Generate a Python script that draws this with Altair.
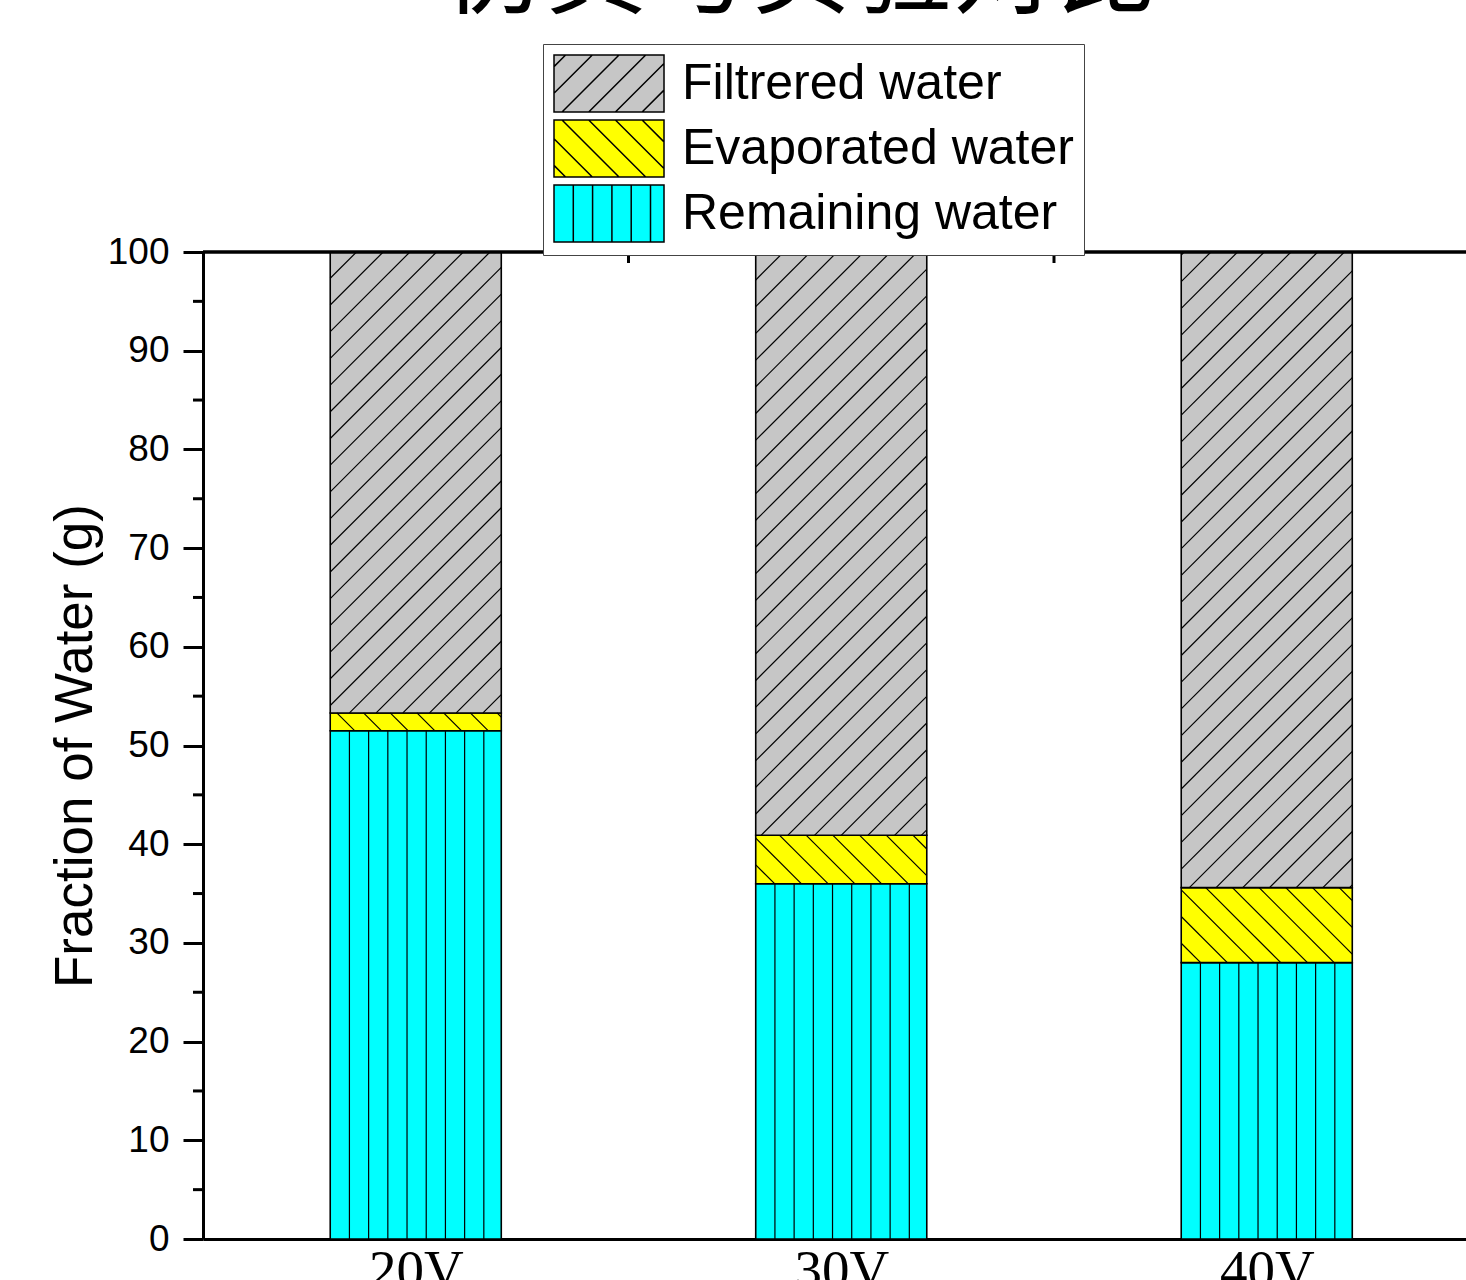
import math

import altair as alt
import pandas as pd

# ---- data ----
categories = ["20V", "30V", "40V"]
remaining = [51.5, 36.0, 28.0]
evaporated = [1.8, 4.9, 7.6]
filtered = [46.7, 59.1, 64.4]

segments = ["Filtrered water", "Evaporated water", "Remaining water"]
seg_colors = ["#c6c6c6", "#ffff00", "#00ffff"]
seg_hatch = {"Filtrered water": "/", "Evaporated water": "\\", "Remaining water": "|"}

title_text = "仿真与实验对比"
y_title = "Fraction of Water (g)"

# ---- layout (pixels) ----
PAD_L, PAD_T, PAD_B = 203, 252, 41
W = 1466 - PAD_L
H = 987
SLOT = 425.5            # pixels between neighbouring categories
X_MIN = 0.5
X_MAX = X_MIN + W / SLOT
BAR_HALF = 0.201        # half bar width in category units
KY = H / 100.0
DSTEP = 26.7            # diagonal hatch spacing (px, horizontal)
VSTEP = 19.2            # vertical hatch spacing (px)
SW_W, SW_H = 110.0, 57.0  # legend swatch size (px)


def to_px(x, y):
    return (x - X_MIN) * SLOT, H - y * KY


def from_px(px, py):
    return px / SLOT + X_MIN, (H - py) / KY


def hatch_lines(x0, x1, yt, yb, kind, step_v=VSTEP, phase=0.0):
    """Hatch segments clipped to a pixel rectangle (y grows downwards)."""
    out = []
    if kind == "|":
        px = x0 + step_v
        while px < x1 - 2:
            out.append((px, yt, px, yb))
            px += step_v
    elif kind == "/":
        s = phase + math.floor((x0 + yt - phase) / DSTEP) * DSTEP
        while s <= x1 + yb:
            pa, pb = max(x0, s - yb), min(x1, s - yt)
            if pb - pa > 0.5:
                out.append((pa, s - pa, pb, s - pb))
            s += DSTEP
    else:
        s = phase + math.floor((x0 - yb - phase) / DSTEP) * DSTEP
        while s <= x1 - yt:
            pa, pb = max(x0, s + yt), min(x1, s + yb)
            if pb - pa > 0.5:
                out.append((pa, pa - s, pb, pb - s))
            s += DSTEP
    return out


# stacked bar pieces
rows = []
for i, cat in enumerate(categories):
    pos = i + 1
    y0 = 0.0
    for seg, val in (("Remaining water", remaining[i]),
                     ("Evaporated water", evaporated[i]),
                     ("Filtrered water", filtered[i])):
        rows.append(dict(cat=cat, pos=pos, segment=seg, value=val,
                         y0=y0, y1=y0 + val, mid=y0 + val / 2,
                         x0=pos - BAR_HALF, x1=pos + BAR_HALF))
        y0 += val
bars_df = pd.DataFrame(rows)

# hatch strokes inside every bar piece
hrows = []
for r in rows:
    px0, py_bot = to_px(r["x0"], r["y0"])
    px1, py_top = to_px(r["x1"], r["y1"])
    for a, b, c, d in hatch_lines(px0, px1, py_top, py_bot, seg_hatch[r["segment"]], phase=20):
        hx0, hy0 = from_px(a, b)
        hx1, hy1 = from_px(c, d)
        hrows.append(dict(hx0=hx0, hy0=hy0, hx1=hx1, hy1=hy1))
hatch_df = pd.DataFrame(hrows)


# legend swatches: rectangle plus its hatch, as symbol paths.
# Symbol units are SW_H/2 pixels; the swatch starts at the left edge of a
# square symbol of side SW_H and runs SW_W pixels to the right.
def swatch_path(kind):
    unit = SW_H / 2
    x0, x1 = -unit, -unit + SW_W
    yt, yb = -unit, unit
    parts = [f"M{x0 / unit:.3f},{yt / unit:.3f}H{x1 / unit:.3f}V{yb / unit:.3f}H{x0 / unit:.3f}Z"]
    for a, b, c, d in hatch_lines(x0, x1, yt, yb, kind, step_v=19.3, phase=8):
        parts.append(f"M{a / unit:.3f},{b / unit:.3f}L{c / unit:.3f},{d / unit:.3f}")
    return "".join(parts)


swatches = [swatch_path(seg_hatch[s]) for s in segments]
SYM_SIZE = SW_H * SW_H

minor_df = pd.DataFrame({"v": [v + 5 for v in range(0, 100, 10)]})
top_ticks_df = pd.DataFrame({"t": [p + 0.5 for p in range(1, len(categories))]})
top_line_df = pd.DataFrame({"v": [100]})
title_df = pd.DataFrame({"t": [title_text]})

# ---- scales / axes ----
xs = alt.Scale(domain=[X_MIN, X_MAX], nice=False, zero=False)
ys = alt.Scale(domain=[0, 100], nice=False)
fill_scale = alt.Scale(domain=segments, range=seg_colors)
stroke_scale = alt.Scale(domain=segments, range=["black"] * len(segments))
shape_scale = alt.Scale(domain=segments, range=swatches)

label_js = "[" + ",".join(f"'{c}'" for c in categories) + "]"
x_axis = alt.Axis(title=None, values=list(range(1, len(categories) + 1)),
                  labelExpr=f"{label_js}[datum.value - 1]", ticks=False, tickSize=0,
                  domainColor="black", domainWidth=3, grid=False,
                  labelFont="Liberation Serif", labelFontSize=55, labelColor="black",
                  labelPadding=5, labelFlush=False)
y_axis = alt.Axis(title=y_title, values=list(range(0, 101, 10)), tickSize=20, tickWidth=3,
                  tickColor="black", domainColor="black", domainWidth=3, grid=False,
                  labelFont="Liberation Sans", labelFontSize=37, labelColor="black",
                  labelPadding=14, titleFont="Liberation Sans", titleFontSize=53,
                  titleFontWeight="normal", titleColor="black", titlePadding=5)

legend = alt.Legend(title=None, orient="none", legendX=340, legendY=-208,
                    labelFont="Liberation Sans", labelFontSize=50, labelColor="black",
                    labelOffset=70, labelLimit=0, symbolSize=SYM_SIZE, symbolStrokeWidth=1.5,
                    symbolStrokeColor="black", symbolOpacity=1, padding=10, rowPadding=2,
                    strokeColor="#444444", fillColor="white")

# legend carriers (sit underneath the bars)
keys = alt.Chart(bars_df).mark_point(filled=True, strokeWidth=1.5,
                                     size=SYM_SIZE, opacity=1).encode(
    x=alt.X("pos:Q", scale=xs, axis=x_axis),
    y=alt.Y("mid:Q", scale=ys, axis=y_axis),
    fill=alt.Fill("segment:N", scale=fill_scale, legend=legend),
    stroke=alt.Stroke("segment:N", scale=stroke_scale, legend=legend),
    shape=alt.Shape("segment:N", scale=shape_scale, legend=legend),
)

bars = alt.Chart(bars_df).mark_rect(stroke="black", strokeWidth=1.6).encode(
    x=alt.X("x0:Q", scale=xs),
    x2="x1:Q",
    y=alt.Y("y0:Q", scale=ys),
    y2="y1:Q",
    fill=alt.Fill("segment:N", scale=fill_scale, legend=None),
)

hatch = alt.Chart(hatch_df).mark_rule(color="black", strokeWidth=1.2).encode(
    x=alt.X("hx0:Q", scale=xs), y=alt.Y("hy0:Q", scale=ys), x2="hx1:Q", y2="hy1:Q",
)

minor = alt.Chart(minor_df).mark_rule(color="black", strokeWidth=3).encode(
    y=alt.Y("v:Q", scale=ys), x=alt.value(-10), x2=alt.value(0),
)

top_line = alt.Chart(top_line_df).mark_rule(color="black", strokeWidth=3.5).encode(
    y=alt.Y("v:Q", scale=ys), x=alt.value(0), x2=alt.value(W),
)

top_ticks = alt.Chart(top_ticks_df).mark_rule(color="black", strokeWidth=3).encode(
    x=alt.X("t:Q", scale=xs), y=alt.value(0), y2=alt.value(11),
)

title = alt.Chart(title_df).mark_text(font="Noto Sans CJK SC", fontSize=102, align="center",
                                      baseline="alphabetic", color="black").encode(
    text="t:N", x=alt.value(800 - PAD_L), y=alt.value(6 - PAD_T),
)

chart = alt.layer(keys, bars, hatch, minor, top_line, top_ticks, title).properties(
    width=W, height=H,
    autosize=alt.AutoSizeParams(type="none"),
    padding={"left": PAD_L, "top": PAD_T, "right": 0, "bottom": PAD_B},
).configure_view(stroke=None).configure(background="white")

chart.save("out.html", embed_options={"renderer": "svg", "actions": False})
